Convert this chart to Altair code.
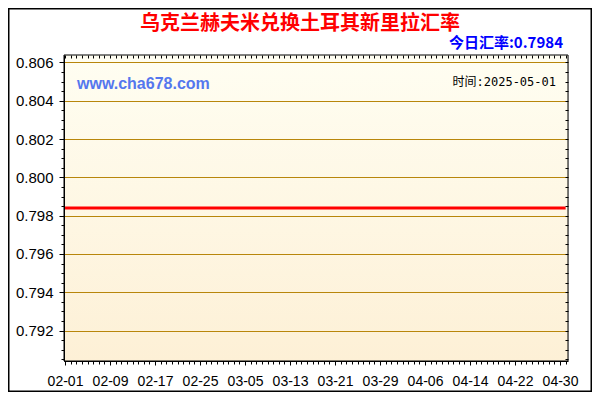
import altair as alt
import pandas as pd
import numpy as np

# ---------------- data ----------------
title_text = "乌克兰赫夫米兑换土耳其新里拉汇率"
site_text = "www.cha678.com"
time_text = "时间:2025-05-01"
rate_label = "今日汇率:"
dates = ["2025-02-01", "2025-05-01"]
rates = [0.7984, 0.7984]
x_label_dates = ["2025-02-01", "2025-02-09", "2025-02-17", "2025-02-25", "2025-03-05",
                 "2025-03-13", "2025-03-21", "2025-03-29", "2025-04-06", "2025-04-14",
                 "2025-04-22", "2025-04-30"]
y_labels = [0.792, 0.794, 0.796, 0.798, 0.800, 0.802, 0.804, 0.806]

DAY = 86400000
t0 = int(pd.Timestamp("2025-02-01", tz="UTC").value // 10**6)
day_ticks = [t0 + i * DAY for i in range(0, 90)]
x_domain = [t0 - 0.18 * DAY, t0 + 89.42 * DAY]
y_domain = [0.790416, 0.806384]
y_ticks = [round(v, 4) for v in np.arange(0.7905, 0.80601, 0.0005)]

W, H = 504, 306
PAD = {"left": 56, "top": 47, "right": 24, "bottom": 31}
TOTAL_W = W + PAD["left"] + PAD["right"]
TOTAL_H = H + PAD["top"] + PAD["bottom"]
LATIN = "Liberation Sans, Arial, Noto Sans CJK SC"
CJK = "Noto Sans CJK SC, Liberation Sans"
MONO = "DejaVu Sans Mono, Noto Sans CJK SC"

df = pd.DataFrame({"date": dates, "rate": rates})

major_x = f"round((time(datum.value) - {t0}) / {DAY}) % 8 == 0"
major_y = "abs(datum.value * 500 - round(datum.value * 500)) < 0.001"

xs = alt.Scale(type="utc", domain=x_domain, nice=False)
ys = alt.Scale(domain=y_domain, nice=False, zero=False)

one = alt.Data(values=[{"a": 1}])

bg = alt.Chart(one).mark_rect(
    color=alt.LinearGradient(
        gradient="linear",
        stops=[alt.GradientStop(color="#fffef2", offset=0),
               alt.GradientStop(color="#fdf0d6", offset=1)],
        x1=0, x2=0, y1=0, y2=1),
    stroke="black", strokeWidth=1
).encode(x=alt.value(0), x2=alt.value(W), y=alt.value(0), y2=alt.value(H))

border = alt.Chart(one).mark_rect(fill=None, stroke="black", strokeWidth=1.5).encode(
    x=alt.value(-PAD["left"] + 0.75), x2=alt.value(TOTAL_W - PAD["left"] - 0.75),
    y=alt.value(-PAD["top"] + 0.75), y2=alt.value(TOTAL_H - PAD["top"] - 0.75))

line = alt.Chart(df).mark_line(color="#ff0000", strokeWidth=3).encode(
    x=alt.X("date:T", scale=xs, axis=alt.Axis(
        orient="bottom", values=day_ticks, title=None,
        labelExpr=f"{major_x} ? utcFormat(datum.value, '%m-%d') : ''",
        tickSize={"condition": {"test": major_x, "value": 4}, "value": 3},
        tickColor="black", domainColor="black", grid=False,
        labelFont=LATIN, labelFontSize=14, labelColor="black", labelPadding=9,
        labelAngle=0, labelOverlap=False, labelFlush=False, labelBound=False, zindex=1)),
    y=alt.Y("rate:Q", scale=ys, axis=alt.Axis(
        orient="left", values=y_ticks, title=None,
        labelExpr=f"{major_y} ? format(datum.value, '.3f') : ''",
        tickSize={"condition": {"test": major_y, "value": 5}, "value": 3},
        tickColor="black", domainColor="black",
        grid=True, gridColor="#b8860b", gridWidth=1,
        gridOpacity={"condition": {"test": major_y, "value": 1}, "value": 0},
        labelFont=LATIN, labelFontSize=15, labelColor="black", labelPadding=6,
        labelOverlap=False, labelFlush=False, labelBound=False, zindex=1)),
)

ghost = alt.Chart(df).mark_line(opacity=0).encode(
    x=alt.X("date:T", scale=xs, axis=alt.Axis(
        orient="top", offset=-3, values=day_ticks, title=None, labels=False,
        domain=False, grid=False, tickSize=3, tickColor="black", zindex=1)),
    y=alt.Y("rate:Q", scale=ys, axis=alt.Axis(
        orient="right", offset=-3, values=y_ticks, title=None, labels=False,
        domain=False, grid=False, tickSize=3, tickColor="black", zindex=1)),
)

title = alt.Chart(one).mark_text(
    text=title_text, font=CJK, fontSize=20, fontWeight="bold", color="#ff0000",
    align="center", baseline="middle"
).encode(x=alt.value(236), y=alt.value(-31.5))

rate_txt = alt.Chart(one).mark_text(
    text=f"{rate_label}{rates[-1]:.4f}", font=CJK, fontSize=15, fontWeight="bold",
    color="#0000ff", align="right", baseline="middle"
).encode(x=alt.value(499), y=alt.value(-12.5))

site = alt.Chart(one).mark_text(
    text=site_text, font=LATIN, fontSize=16, fontWeight="bold", color="#5577ee",
    align="left", baseline="middle"
).encode(x=alt.value(13), y=alt.value(29))

time_txt = alt.Chart(one).mark_text(
    text=time_text, font=MONO, fontSize=12, color="black",
    align="right", baseline="middle"
).encode(x=alt.value(492), y=alt.value(27))

chart = alt.layer(bg, line, ghost, border, title, rate_txt, site, time_txt).resolve_axis(
    x="independent", y="independent"
).properties(
    width=W, height=H,
    autosize=alt.AutoSizeParams(type="none"),
    padding=PAD,
).configure_view(stroke=None).configure(background="white")

chart.save("out.html", embed_options={"renderer": "svg", "actions": False})
